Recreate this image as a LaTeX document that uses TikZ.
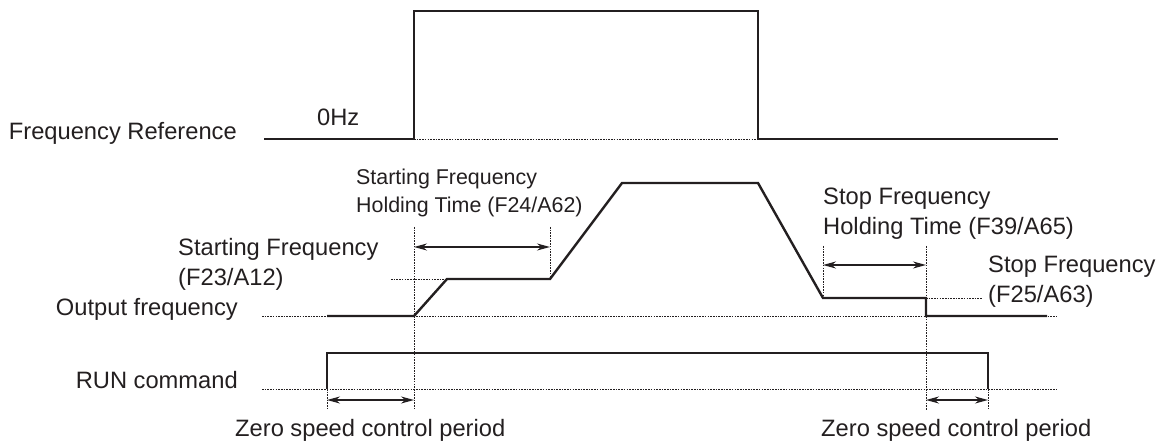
\documentclass[tikz,border=0pt]{standalone}
\usepackage{fontspec}
\setmainfont{Liberation Sans}
\usetikzlibrary{arrows.meta}
\definecolor{ink}{HTML}{231F20}
\begin{document}
\begin{tikzpicture}[x=1pt,y=-1pt,
  sig/.style={line width=2.4pt, line join=miter, draw=ink},
  guide/.style={line width=0.9pt, dash pattern=on 1.6pt off 1.1pt, draw=ink},
  dimarrow/.style={line width=1.4pt, draw=ink, {Stealth[length=13pt,width=7pt]}-{Stealth[length=13pt,width=7pt]}},
  lbl/.style={inner sep=0pt, font=\fontsize{23.7}{30}\selectfont, text=ink},
  smalllbl/.style={inner sep=0pt, font=\fontsize{21.4}{28}\selectfont, text=ink},
]
\useasboundingbox (0,0) rectangle (1165,443);

% frequency reference
\coordinate (fr0) at (264,139);
\coordinate (fr1) at (414,139);
\coordinate (fr2) at (414,11);
\coordinate (fr3) at (758,11);
\coordinate (fr4) at (758,139);
\coordinate (fr5) at (1058,139);
% output frequency
\coordinate (of0) at (327,316);
\coordinate (of1) at (414,316);
\coordinate (of2) at (447,279);
\coordinate (of3) at (550,279);
\coordinate (of4) at (622,183);
\coordinate (of5) at (758,183);
\coordinate (of6) at (823,298);
\coordinate (of7) at (926,298);
\coordinate (of8) at (926,316);
\coordinate (of9) at (1047,316);
% run command
\coordinate (rc0) at (327,389);
\coordinate (rc1) at (327,353);
\coordinate (rc2) at (988,353);
\coordinate (rc3) at (988,389);

% guide (dotted) lines
\draw[guide] (fr1) -- (fr4);
\coordinate (ofL) at (262,316); \coordinate (ofR) at (1057,316);
\draw[guide] (ofL) -- (ofR);
\coordinate (rcL) at (262,389); \coordinate (rcR) at (1057,389);
\draw[guide] (rcL) -- (rcR);
\coordinate (sfL) at (391,279);
\draw[guide] (sfL) -- (of2);
\coordinate (spR) at (982,298);
\draw[guide] (of7) -- (spR);
\coordinate (v1t) at (414,227); \coordinate (v1b) at (414,410);
\draw[guide] (v1t) -- (v1b);
\coordinate (v2t) at (550,227);
\draw[guide] (v2t) -- (of3);
\coordinate (v3t) at (823,246);
\draw[guide] (v3t) -- (of6);
\coordinate (v4t) at (926,246); \coordinate (v4b) at (926,410);
\draw[guide] (v4t) -- (v4b);
\coordinate (v5b) at (327,410);
\draw[guide] (rc0) -- (v5b);
\coordinate (v6b) at (988,410);
\draw[guide] (rc3) -- (v6b);

% signals
\draw[sig] (fr0) -- (fr1) -- (fr2) -- (fr3) -- (fr4) -- (fr5);
\draw[sig] (of0) -- (of1) -- (of2) -- (of3) -- (of4) -- (of5) -- (of6) -- (of7) -- (of8) -- (of9);
\draw[sig] (rc0) -- (rc1) -- (rc2) -- (rc3);

% dimension arrows
\coordinate (a1l) at (414,247); \coordinate (a1r) at (550,247);
\draw[dimarrow] (a1l) -- (a1r);
\coordinate (a2l) at (823,265); \coordinate (a2r) at (926,265);
\draw[dimarrow] (a2l) -- (a2r);
\coordinate (a3l) at (327,400); \coordinate (a3r) at (414,400);
\draw[dimarrow] (a3l) -- (a3r);
\coordinate (a4l) at (926,400); \coordinate (a4r) at (988,400);
\draw[dimarrow] (a4l) -- (a4r);

% labels
\node[lbl, anchor=base east] (lfr) at (237,140) {Frequency Reference};
\node[lbl, anchor=base east] (lof) at (238,316) {Output frequency};
\node[lbl, anchor=base east] (lrc) at (238,389) {RUN command};
\node[lbl, anchor=base west] (l0hz) at (317,126) {0Hz};
\node[smalllbl, anchor=base west] (lsh1) at (356,185) {Starting Frequency};
\node[smalllbl, anchor=base west] (lsh2) at (356,213) {Holding Time (F24/A62)};
\node[lbl, anchor=base west] (lsf1) at (178,256) {Starting Frequency};
\node[lbl, anchor=base west] (lsf2) at (178,286) {(F23/A12)};
\node[lbl, anchor=base west] (lph1) at (823,205) {Stop Frequency};
\node[lbl, anchor=base west] (lph2) at (823,235) {Holding Time (F39/A65)};
\node[lbl, anchor=base west] (lpf1) at (988,273) {Stop Frequency};
\node[lbl, anchor=base west] (lpf2) at (988,303) {(F25/A63)};
\node[lbl, anchor=base west] (lz1) at (235,437) {Zero speed control period};
\node[lbl, anchor=base west] (lz2) at (821,437) {Zero speed control period};
\end{tikzpicture}
\end{document}
